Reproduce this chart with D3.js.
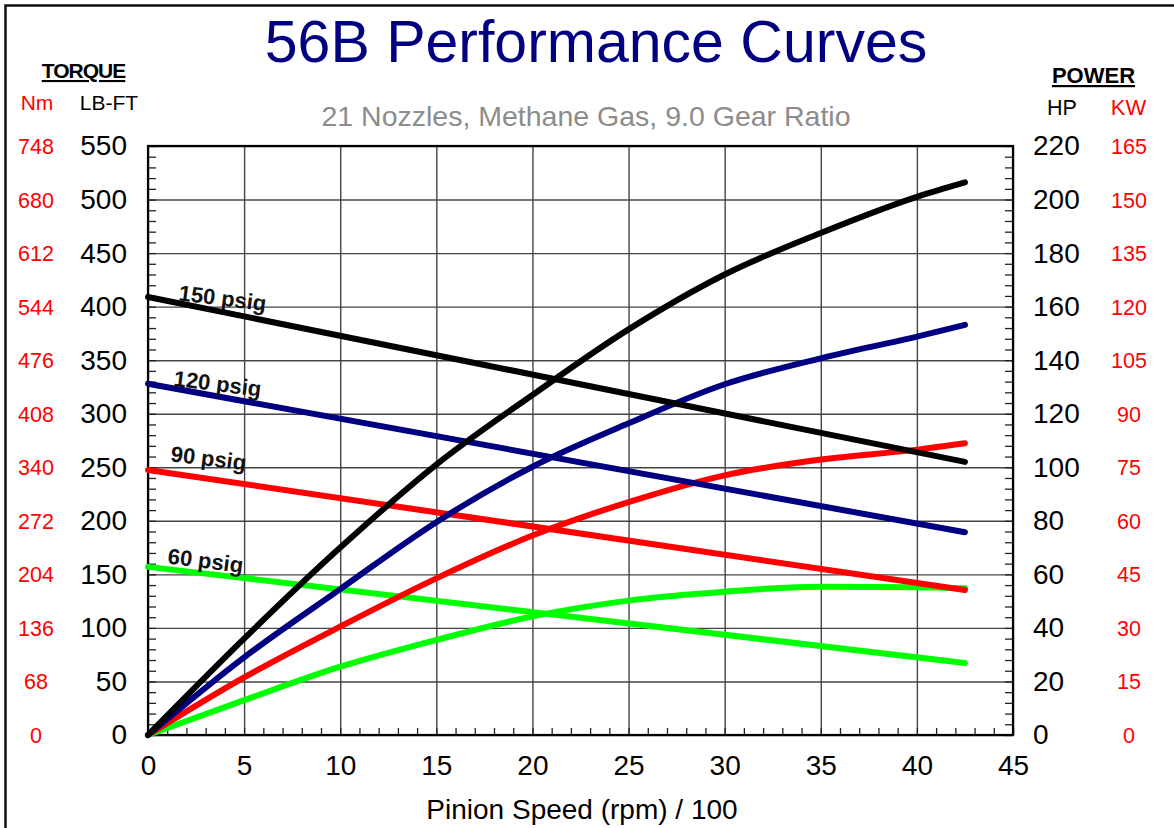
<!DOCTYPE html>
<html>
<head>
<meta charset="utf-8">
<script src="https://cdn.jsdelivr.net/npm/d3@7"></script>
<style>
  html, body { margin: 0; padding: 0; background: #fff; }
  svg { display: block; font-family: "Liberation Sans", Arial, sans-serif; }
</style>
</head>
<body>
<svg id="chart" width="1174" height="828"></svg>
<script>
// Pinion speed (rpm / 100) sample points
const speeds = [0, 5, 10, 15, 20, 25, 30, 35, 40, 42.5];

// Torque lines (lb-ft) at start and end of the speed range
const torqueSpeeds = [0, 42.5];
const torque150 = [409, 255];
const torque120 = [328, 189.3];
const torque90 = [247.5, 135.4];
const torque60 = [157, 67.2];

// Power curves (HP)
const power150 = [0, 36, 70, 101, 127, 151.5, 172, 187.5, 201, 206.4];
const power120 = [0, 29, 54.5, 79.5, 100.2, 116.4, 131, 140.7, 148.8, 153.2];
const power90 = [0, 21.5, 40.5, 58.5, 74.5, 87, 97, 102.9, 106.6, 109];
const power60 = [0, 13, 25.5, 35.5, 44.3, 50.2, 53.5, 55.4, 55.2, 54.8];

const pressureLabels = ["150 psig", "120 psig", "90 psig", "60 psig"];
const seriesColors = ["#000000", "#000080", "#ff0000", "#00ff00"];

// Axis tick labels
const xTicks = [0, 5, 10, 15, 20, 25, 30, 35, 40, 45];
const lbftTicks = [0, 50, 100, 150, 200, 250, 300, 350, 400, 450, 500, 550];
const nmTicks = [0, 68, 136, 204, 272, 340, 408, 476, 544, 612, 680, 748];
const hpTicks = [0, 20, 40, 60, 80, 100, 120, 140, 160, 180, 200, 220];
const kwTicks = [0, 15, 30, 45, 60, 75, 90, 105, 120, 135, 150, 165];

const svg = d3.select("#chart");
const L = 148, R = 1013, T = 146, B = 735;

const x = d3.scaleLinear().domain([0, 45]).range([L, R]);
const yT = d3.scaleLinear().domain([0, 550]).range([B, T]);
const yP = d3.scaleLinear().domain([0, 220]).range([B, T]);

const FONT = "Liberation Sans, Arial, sans-serif";

// page frame
svg.append("rect").attr("x", 5.5).attr("y", 5.5).attr("width", 1300).attr("height", 1000)
  .attr("fill", "none").attr("stroke", "#111").attr("stroke-width", 2.5);

// titles
svg.append("text").attr("x", 596).attr("y", 62).attr("text-anchor", "middle")
  .attr("font-size", 59).attr("fill", "#000080").text("56B Performance Curves");
svg.append("text").attr("x", 586).attr("y", 126).attr("text-anchor", "middle")
  .attr("font-size", 28.5).attr("fill", "#8c8c8c").text("21 Nozzles, Methane Gas, 9.0 Gear Ratio");

// gridlines
svg.append("g").attr("transform", `translate(0,${B})`)
  .call(d3.axisBottom(x).tickValues(xTicks).tickSize(-(B - T)).tickFormat(""))
  .call(g => g.select(".domain").remove())
  .call(g => g.selectAll("line").attr("stroke", "#444").attr("stroke-width", 1.4));
svg.append("g").attr("transform", `translate(${L},0)`)
  .call(d3.axisLeft(yT).tickValues(lbftTicks).tickSize(-(R - L)).tickFormat(""))
  .call(g => g.select(".domain").remove())
  .call(g => g.selectAll("line").attr("stroke", "#444").attr("stroke-width", 1.4));

// minor ticks (inside)
svg.append("g").attr("transform", `translate(0,${B})`)
  .call(d3.axisBottom(x).tickValues(d3.range(0, 46, 1)).tickSize(-7).tickFormat(""))
  .call(g => g.select(".domain").remove())
  .call(g => g.selectAll("line").attr("stroke", "#222").attr("stroke-width", 1.3));
svg.append("g").attr("transform", `translate(${L},0)`)
  .call(d3.axisLeft(yT).tickValues(d3.range(0, 551, 10)).tickSize(-8).tickFormat(""))
  .call(g => g.select(".domain").remove())
  .call(g => g.selectAll("line").attr("stroke", "#222").attr("stroke-width", 1.3));
svg.append("g").attr("transform", `translate(${R},0)`)
  .call(d3.axisRight(yP).tickValues(d3.range(0, 221, 4)).tickSize(-8).tickFormat(""))
  .call(g => g.select(".domain").remove())
  .call(g => g.selectAll("line").attr("stroke", "#222").attr("stroke-width", 1.3));

// plot border
svg.append("rect").attr("x", L).attr("y", T).attr("width", R - L).attr("height", B - T)
  .attr("fill", "none").attr("stroke", "#000").attr("stroke-width", 2.2);

// tick labels
svg.append("g").attr("transform", `translate(0,${B})`)
  .call(d3.axisBottom(x).tickValues(xTicks).tickSize(0).tickPadding(20).tickFormat(d3.format("d")))
  .call(g => g.select(".domain").remove())
  .call(g => g.selectAll("text").attr("font-size", 28).attr("fill", "#000").attr("font-family", FONT));
svg.append("g").attr("transform", `translate(${L},0)`)
  .call(d3.axisLeft(yT).tickValues(lbftTicks).tickSize(0).tickPadding(21).tickFormat(d3.format("d")))
  .call(g => g.select(".domain").remove())
  .call(g => g.selectAll("text").attr("font-size", 28).attr("fill", "#000").attr("font-family", FONT));
svg.append("g").attr("transform", `translate(${R},0)`)
  .call(d3.axisRight(yP).tickValues(hpTicks).tickSize(0).tickPadding(20).tickFormat(d3.format("d")))
  .call(g => g.select(".domain").remove())
  .call(g => g.selectAll("text").attr("font-size", 28).attr("fill", "#000").attr("font-family", FONT));

svg.append("g").selectAll("text").data(nmTicks).join("text")
  .attr("x", 36).attr("y", (d, i) => yT(lbftTicks[i]) + 8)
  .attr("text-anchor", "middle").attr("font-size", 21.5).attr("fill", "#ff0000").text(d => d);
svg.append("g").selectAll("text").data(kwTicks).join("text")
  .attr("x", 1129).attr("y", (d, i) => yP(hpTicks[i]) + 8)
  .attr("text-anchor", "middle").attr("font-size", 21.5).attr("fill", "#ff0000").text(d => d);

// axis headers
svg.append("text").attr("x", 83.5).attr("y", 78).attr("text-anchor", "middle")
  .attr("font-size", 21).attr("font-weight", "bold").attr("letter-spacing", -1)
  .attr("text-decoration", "underline").text("TORQUE");
svg.append("text").attr("x", 37).attr("y", 110).attr("text-anchor", "middle")
  .attr("font-size", 21).attr("fill", "#ff0000").text("Nm");
svg.append("text").attr("x", 109).attr("y", 110).attr("text-anchor", "middle")
  .attr("font-size", 21).attr("fill", "#000").text("LB-FT");
svg.append("text").attr("x", 1093.5).attr("y", 83).attr("text-anchor", "middle")
  .attr("font-size", 22).attr("font-weight", "bold")
  .attr("text-decoration", "underline").text("POWER");
svg.append("text").attr("x", 1062).attr("y", 115).attr("text-anchor", "middle")
  .attr("font-size", 21.5).attr("fill", "#000").text("HP");
svg.append("text").attr("x", 1128.5).attr("y", 115).attr("text-anchor", "middle")
  .attr("font-size", 22).attr("fill", "#ff0000").text("KW");

svg.append("text").attr("x", 582).attr("y", 819).attr("text-anchor", "middle")
  .attr("font-size", 28).attr("fill", "#000").text("Pinion Speed (rpm) / 100");

// series
const torqueSeries = [torque150, torque120, torque90, torque60];
const powerSeries = [power150, power120, power90, power60];

const torqueLine = d3.line().x((d, i) => x(torqueSpeeds[i])).y(d => yT(d));
const powerLine = d3.line().x((d, i) => x(speeds[i])).y(d => yP(d)).curve(d3.curveMonotoneX);

const lines = svg.append("g").attr("fill", "none").attr("stroke-width", 6)
  .attr("stroke-linecap", "round").attr("stroke-linejoin", "round");

// draw from lowest pressure up so the higher curves sit on top
for (let i = 3; i >= 0; i--) {
  lines.append("path").attr("d", powerLine(powerSeries[i])).attr("stroke", seriesColors[i]);
  lines.append("path").attr("d", torqueLine(torqueSeries[i])).attr("stroke", seriesColors[i]);
}

// pressure labels riding just above each torque line
const labelInset = [30, 25, 22, 19];
const labelLift = [-2.7, -2.5, -12, -5.5];
pressureLabels.forEach((lab, i) => {
  const t = torqueSeries[i];
  const lineAt = d3.scaleLinear().domain(torqueSpeeds).range(t);
  const px = x(0) + labelInset[i];
  const py = yT(lineAt(x.invert(px))) + labelLift[i];
  svg.append("text").attr("transform", `translate(${px},${py}) rotate(7)`)
    .attr("font-size", 22).attr("font-weight", "bold")
    .attr("fill", "#111").text(lab);
});
</script>
</body>
</html>
